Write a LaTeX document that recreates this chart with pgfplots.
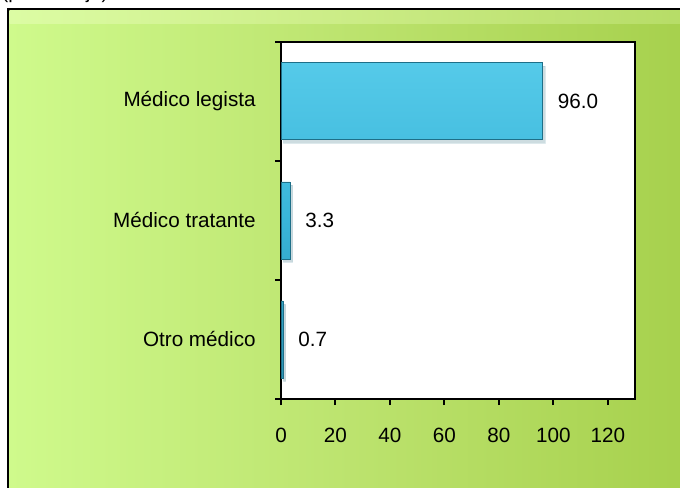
\documentclass[border=0pt]{standalone}
\usepackage{pgfplots}
\pgfplotsset{compat=1.18}
\usepackage{fontspec}
\setmainfont{Liberation Sans}
\definecolor{gL}{HTML}{CFFA8C}
\definecolor{gM}{HTML}{BCE36E}
\definecolor{gR}{HTML}{A6D04C}
\definecolor{bL}{HTML}{DCFCA4}
\definecolor{bM}{HTML}{CBEC86}
\definecolor{bR}{HTML}{B6DC66}
\definecolor{barT}{HTML}{55CAE9}
\definecolor{barM}{HTML}{39B5D9}
\definecolor{barB}{HTML}{2B93B5}
\definecolor{barD}{HTML}{1E6F88}
\begin{document}
\begin{tikzpicture}
\clip (0,0) rectangle (510pt,365.25pt);
\fill[white] (0,0) rectangle (510pt,365.25pt);
% title remnant
\node[anchor=base west,inner sep=0pt,font=\fontsize{15}{18}\selectfont] at (1pt,366.5pt) {(porcentaje)};
% outer frame
\fill[left color=gL, right color=gR, middle color=gM] (6pt,-5pt) rectangle (520pt,358.5pt);
\fill[left color=bL, right color=bR, middle color=bM] (7pt,357.5pt) rectangle (520pt,348pt);
\draw[line width=1.9pt] (6pt,-5pt) -- (6pt,358.5pt) -- (520pt,358.5pt);
\begin{axis}[
  at={(210.75pt,66pt)}, anchor=origin,
  scale only axis, width=265.5pt, height=268pt,
  xbar, bar width=57.75pt,
  xmin=0, xmax=130, ymin=0.5, ymax=3.5,
  axis background/.style={fill=white},
  axis line style={line width=1.5pt},
  every tick/.style={black, line width=1.5pt},
  tick align=outside,
  xtick pos=bottom, ytick pos=left,
  xtick={0,20,40,60,80,100,120},
  major tick length=4.5pt,
  ytick={1,2,3},
  yticklabels={Otro médico, Médico tratante, Médico legista},
  minor ytick={0.5,1.5,2.5,3.5},
  minor tick length=4.5pt,
  major y tick style={draw=none},
  /pgf/number format/assume math mode=true,
  tick label style={font=\fontsize{15.5}{18}\selectfont},
  yticklabel style={xshift=-11pt},
  xticklabel style={yshift=-14pt},
  nodes near coords,
  nodes near coords align={horizontal},
  every node near coord/.append style={font=\fontsize{15.5}{18}\selectfont, xshift=8pt, black,
    /pgf/number format/.cd, fixed, fixed zerofill, precision=1, assume math mode=true},
  clip=false,
]
\addplot[xbar, draw=barD, line width=0.5pt, top color=barT, bottom color=barB, middle color=barM,
  preaction={fill=black, opacity=0.12, transform canvas={xshift=2pt, yshift=-2.5pt}}]
  coordinates {(0.7,1) (3.3,2) (96.0,3)};
\end{axis}
\end{tikzpicture}
\end{document}
